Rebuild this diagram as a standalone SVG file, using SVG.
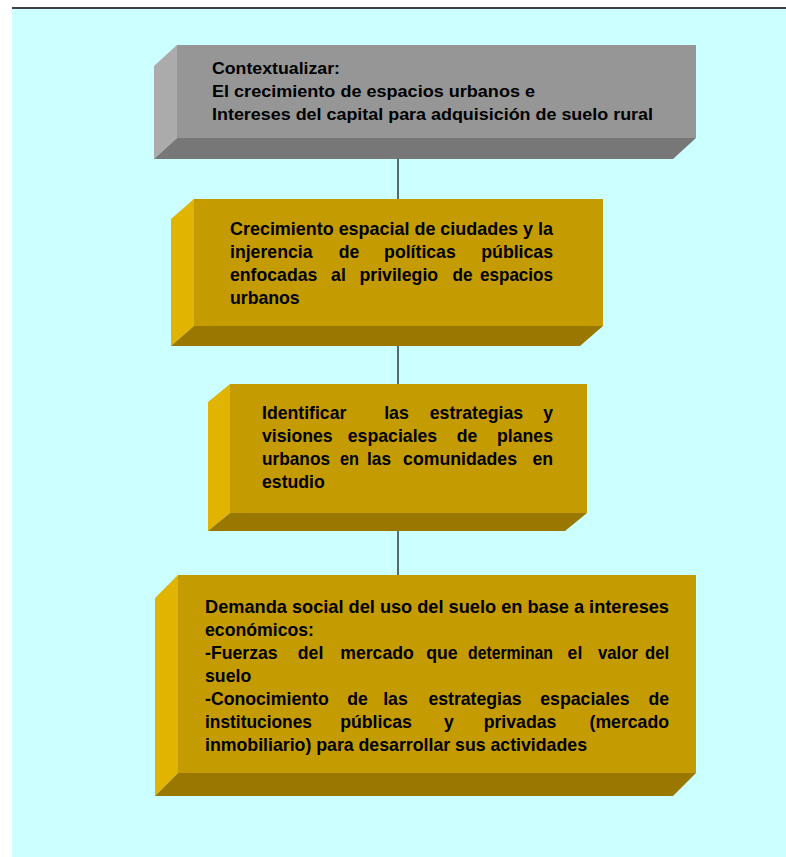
<svg xmlns="http://www.w3.org/2000/svg" width="786" height="857" viewBox="0 0 786 857">
  <style>
    .bg { fill: #CCFFFF; }
    .g-front { fill: #969696; }
    .g-side { fill: #ABABAB; }
    .g-bottom { fill: #777777; }
    .y-front { fill: #C49B00; }
    .y-side { fill: #E0B400; }
    .y-bottom { fill: #9A7800; }
    .link { stroke: #2F3B3B; stroke-width: 1.5; fill: none; }
    text { font-family: "Liberation Sans", Arial, sans-serif; fill: #000; }
    .t1 { font-size: 16.5px; font-weight: bold; }
    .t2 { font-size: 18.5px; font-weight: bold; }
  </style>

  <!-- page -->
  <rect x="0" y="0" width="786" height="857" fill="#FFFFFF"/>
  <rect class="bg" x="12" y="9" width="774" height="848"/>
  <line x1="12" y1="8" x2="786" y2="8" stroke="#000" stroke-width="1.5"/>

  <!-- connectors -->
  <g id="connectors">
    <line class="link" x1="398" y1="159" x2="398" y2="199"/>
    <line class="link" x1="398" y1="346" x2="398" y2="384"/>
    <line class="link" x1="398" y1="531" x2="398" y2="575"/>
  </g>

  <!-- box 1 -->
  <g id="contextualizar">
    <rect class="g-front" x="177" y="45" width="519" height="93"/>
    <polygon class="g-side" points="177,45 177,138 154,159 154,66"/>
    <polygon class="g-bottom" points="177,138 696,138 673,159 154,159"/>
    <text class="t1" x="212" y="74" textLength="128" lengthAdjust="spacingAndGlyphs">Contextualizar:</text>
    <text class="t1" x="212" y="97" textLength="323" lengthAdjust="spacingAndGlyphs">El crecimiento de espacios urbanos e</text>
    <text class="t1" x="212" y="120" textLength="441" lengthAdjust="spacingAndGlyphs">Intereses del capital para adquisición de suelo rural</text>
  </g>

  <!-- box 2: justified lines set word by word -->
  <g id="crecimiento">
    <rect class="y-front" x="194" y="199" width="409" height="127"/>
    <polygon class="y-side" points="194,199 194,326 171,346 171,219"/>
    <polygon class="y-bottom" points="194,326 603,326 580,346 171,346"/>
    <text class="t2" x="230" y="235" textLength="323" lengthAdjust="spacingAndGlyphs">Crecimiento espacial de ciudades y la</text>

    <text class="t2" x="230" y="258" textLength="82.5" lengthAdjust="spacingAndGlyphs">injerencia</text>
    <text class="t2" x="338.7" y="258" textLength="20.6" lengthAdjust="spacingAndGlyphs">de</text>
    <text class="t2" x="384.1" y="258" textLength="71.7" lengthAdjust="spacingAndGlyphs">políticas</text>
    <text class="t2" x="481.3" y="258" textLength="71.7" lengthAdjust="spacingAndGlyphs">públicas</text>

    <text class="t2" x="230" y="281" textLength="87.4" lengthAdjust="spacingAndGlyphs">enfocadas</text>
    <text class="t2" x="331.1" y="281" textLength="14.7" lengthAdjust="spacingAndGlyphs">al</text>
    <text class="t2" x="359.5" y="281" textLength="78.6" lengthAdjust="spacingAndGlyphs">privilegio</text>
    <text class="t2" x="452.5" y="281" textLength="20" lengthAdjust="spacingAndGlyphs">de</text>
    <text class="t2" x="480" y="281" textLength="73" lengthAdjust="spacingAndGlyphs">espacios</text>

    <text class="t2" x="230" y="304" textLength="69.7" lengthAdjust="spacingAndGlyphs">urbanos</text>
  </g>

  <!-- box 3 -->
  <g id="identificar">
    <rect class="y-front" x="230" y="384" width="357" height="129"/>
    <polygon class="y-side" points="230,384 230,513 208,531 208,402"/>
    <polygon class="y-bottom" points="230,513 587,513 565,531 208,531"/>
    <text class="t2" x="262" y="419" textLength="84.4" lengthAdjust="spacingAndGlyphs">Identificar</text>
    <text class="t2" x="384.2" y="419" textLength="24.6" lengthAdjust="spacingAndGlyphs">las</text>
    <text class="t2" x="429.8" y="419" textLength="93.3" lengthAdjust="spacingAndGlyphs">estrategias</text>
    <text class="t2" x="543.2" y="419" textLength="9.8" lengthAdjust="spacingAndGlyphs">y</text>

    <text class="t2" x="262" y="442" textLength="70.7" lengthAdjust="spacingAndGlyphs">visiones</text>
    <text class="t2" x="347.8" y="442" textLength="89.4" lengthAdjust="spacingAndGlyphs">espaciales</text>
    <text class="t2" x="456.7" y="442" textLength="20.6" lengthAdjust="spacingAndGlyphs">de</text>
    <text class="t2" x="497" y="442" textLength="56" lengthAdjust="spacingAndGlyphs">planes</text>

    <text class="t2" x="262" y="465" textLength="68" lengthAdjust="spacingAndGlyphs">urbanos</text>
    <text class="t2" x="340" y="465" textLength="19" lengthAdjust="spacingAndGlyphs">en</text>
    <text class="t2" x="367" y="465" textLength="24" lengthAdjust="spacingAndGlyphs">las</text>
    <text class="t2" x="403.1" y="465" textLength="113.9" lengthAdjust="spacingAndGlyphs">comunidades</text>
    <text class="t2" x="532.4" y="465" textLength="20.6" lengthAdjust="spacingAndGlyphs">en</text>

    <text class="t2" x="262" y="488" textLength="62.8" lengthAdjust="spacingAndGlyphs">estudio</text>
  </g>

  <!-- box 4 -->
  <g id="demanda">
    <rect class="y-front" x="178" y="575" width="518" height="198"/>
    <polygon class="y-side" points="178,575 178,773 155,796 155,598"/>
    <polygon class="y-bottom" points="178,773 696,773 673,796 155,796"/>
    <text class="t2" x="205" y="613" textLength="464" lengthAdjust="spacingAndGlyphs">Demanda social del uso del suelo en base a intereses</text>
    <text class="t2" x="205" y="636" textLength="109" lengthAdjust="spacingAndGlyphs">económicos:</text>

    <text class="t2" x="205" y="659" textLength="72.7" lengthAdjust="spacingAndGlyphs">-Fuerzas</text>
    <text class="t2" x="297.8" y="659" textLength="25.5" lengthAdjust="spacingAndGlyphs">del</text>
    <text class="t2" x="340.2" y="659" textLength="73.6" lengthAdjust="spacingAndGlyphs">mercado</text>
    <text class="t2" x="426.3" y="659" textLength="31.4" lengthAdjust="spacingAndGlyphs">que</text>
    <text class="t2" x="468" y="659" textLength="85" lengthAdjust="spacingAndGlyphs">determinan</text>
    <text class="t2" x="567.6" y="659" textLength="14.7" lengthAdjust="spacingAndGlyphs">el</text>
    <text class="t2" x="598" y="659" textLength="40" lengthAdjust="spacingAndGlyphs">valor</text>
    <text class="t2" x="645" y="659" textLength="24" lengthAdjust="spacingAndGlyphs">del</text>

    <text class="t2" x="205" y="682" textLength="46.2" lengthAdjust="spacingAndGlyphs">suelo</text>

    <text class="t2" x="205" y="705" textLength="123.7" lengthAdjust="spacingAndGlyphs">-Conocimiento</text>
    <text class="t2" x="347.2" y="705" textLength="20.6" lengthAdjust="spacingAndGlyphs">de</text>
    <text class="t2" x="383.2" y="705" textLength="24.6" lengthAdjust="spacingAndGlyphs">las</text>
    <text class="t2" x="428.4" y="705" textLength="93.3" lengthAdjust="spacingAndGlyphs">estrategias</text>
    <text class="t2" x="540.3" y="705" textLength="89.4" lengthAdjust="spacingAndGlyphs">espaciales</text>
    <text class="t2" x="648.4" y="705" textLength="20.6" lengthAdjust="spacingAndGlyphs">de</text>

    <text class="t2" x="205" y="728" textLength="107" lengthAdjust="spacingAndGlyphs">instituciones</text>
    <text class="t2" x="340.2" y="728" textLength="71.7" lengthAdjust="spacingAndGlyphs">públicas</text>
    <text class="t2" x="444.1" y="728" textLength="9.8" lengthAdjust="spacingAndGlyphs">y</text>
    <text class="t2" x="483.7" y="728" textLength="72.7" lengthAdjust="spacingAndGlyphs">privadas</text>
    <text class="t2" x="589.5" y="728" textLength="79.5" lengthAdjust="spacingAndGlyphs">(mercado</text>

    <text class="t2" x="205" y="751" textLength="382" lengthAdjust="spacingAndGlyphs">inmobiliario) para desarrollar sus actividades</text>
  </g>
</svg>
